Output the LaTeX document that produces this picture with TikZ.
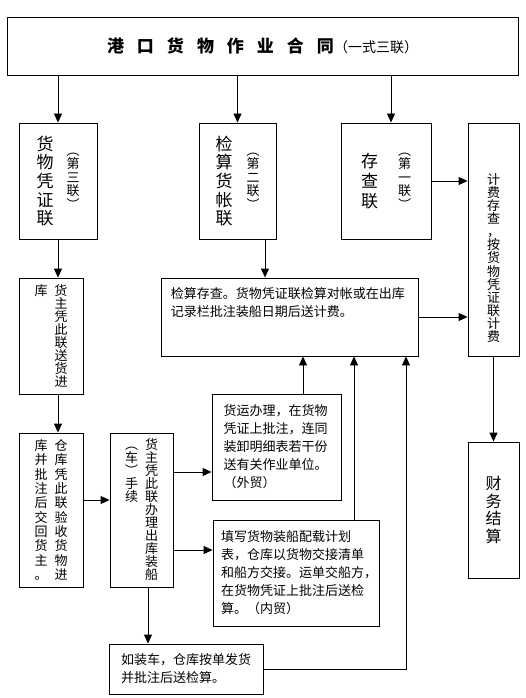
\documentclass[tikz,border=0pt]{standalone}
\usepackage{fontspec}
\setmainfont{Noto Sans CJK SC}
\usetikzlibrary{arrows.meta}

\newcommand{\vcolt}[2][]{\vtop{#1\hsize=1em\parindent=0pt\centering #2\par}}
\newcommand{\vcolc}[2][]{$\vcenter{#1\hsize=1em\parindent=0pt\centering #2\par}$}
\newcommand{\tsp}{\hspace{13pt}}

\begin{document}
\begin{tikzpicture}[x=1pt,y=-1pt]
  \tikzset{box/.style={draw, line width=0.9pt, inner sep=0pt},
    arr/.style={-{Triangle[length=9pt,width=8pt]}, line width=0.9pt},
    vtext/.style={font=\fontsize{13}{13.1}\selectfont},
    htext/.style={font=\fontsize{13}{18}\selectfont, align=left}}
  \useasboundingbox (0,0) rectangle (525,698);
  % contract and its three copies
  \node[box, minimum width=511pt, minimum height=58pt] (ht) at (262.5,46)
    {\fontsize{17}{20}\selectfont\bfseries 港\tsp 口\tsp 货\tsp 物\tsp 作\tsp 业\tsp 合\tsp 同\mdseries\fontsize{14}{16}\selectfont （一式三联）};
  \node[box, minimum width=78pt, minimum height=116pt] (pz) at (58,181)
    {\fontsize{17}{18.6}\selectfont\vcolc{货\\物\\凭\\证\\联}\hspace{13pt}\vcolc[\fontsize{13}{13.5}\selectfont]{︵\\第\\三\\联\\︶}};
  \node[box, minimum width=77pt, minimum height=116pt] (zz) at (237.5,181)
    {\fontsize{17}{18.6}\selectfont\vcolc{检\\算\\货\\帐\\联}\hspace{14pt}\vcolc[\fontsize{13}{13.5}\selectfont]{︵\\第\\二\\联\\︶}};
  \node[box, minimum width=90pt, minimum height=116pt] (cc) at (386,181)
    {\fontsize{17}{20}\selectfont\vcolc{存\\查\\联}\hspace{20pt}\vcolc[\fontsize{13}{13.5}\selectfont]{︵\\第\\一\\联\\︶}};
  % right column
  \node[box, minimum width=51pt, minimum height=233pt] (jf) at (493.5,239.5) {};
  \node[vtext] (jftxt) at (493.5,258)
    {\vcolc{计\\费\\存\\查\\，\\按\\货\\物\\凭\\证\\联\\计\\费}};
  \node[box, minimum width=51pt, minimum height=136pt] (cw) at (493.5,510)
    {\fontsize{16}{17.5}\selectfont\vcolc{财\\务\\结\\算}};
  % check box
  \node[box, minimum width=257pt, minimum height=78pt] (js) at (289.5,317) {};
  \node[htext, anchor=north west, inner sep=0pt] (jstxt)
    at ([shift={(10pt,-10pt)}]js.north west)
    {检算存查。货物凭证联检算对帐或在出库\\记录栏批注装船日期后送计费。};
  % left column
  \node[box, vtext, minimum width=64pt, minimum height=116pt] (jk) at (51,336)
    {\vcolt{库}\hspace{7pt}\vcolt{货\\主\\凭\\此\\联\\送\\货\\进}};
  \node[box, minimum width=64pt, minimum height=154pt, font=\fontsize{13}{14.3}\selectfont] (ys) at (51,510)
    {\vcolt{库\\并\\批\\注\\后\\交\\回\\货\\主\\。}\hspace{7pt}\vcolt{仓\\库\\凭\\此\\联\\验\\收\\货\\物\\进}};
  \node[box, minimum width=63pt, minimum height=154pt, font=\fontsize{13}{13}\selectfont] (ck) at (141.5,510)
    {\vcolt{︵\\车\\︶\\手\\续}\hspace{7pt}\vcolt{货\\主\\凭\\此\\联\\办\\理\\出\\库\\装\\船}};
  % trade boxes
  \node[box, htext, text width=106pt, minimum width=129pt, minimum height=106pt] (wm) at (276.5,447)
    {货运办理，在货物\\凭证上批注，连同\\装卸明细表若干份\\送有关作业单位。\\（外贸）};
  \node[box, htext, text width=150pt, minimum width=166pt, minimum height=106pt] (nm) at (296,573)
    {填写货物装船配载计划\\表，仓库以货物交接清单\\和船方交接。运单交船方，\\在货物凭证上批注后送检\\算。（内贸）};
  \node[box, htext, text width=130pt, minimum width=154pt, minimum height=50pt] (zc) at (186,669)
    {如装车，仓库按单发货\\并批注后送检算。};
  % arrows
  \coordinate (c3) at ([xshift=5pt]cc.north);
  \coordinate (z2) at ([xshift=27.5pt]zz.south);
  \coordinate (k1) at ([xshift=7pt]jk.south);
  \coordinate (y1) at ([yshift=10pt]ys.east);
  \coordinate (w1) at ([yshift=-25pt]wm.west);
  \coordinate (n1) at ([yshift=23pt]nm.west);
  \coordinate (w2) at ([xshift=26.5pt]wm.north);
  \coordinate (n2) at ([xshift=58pt]nm.north);
  \coordinate (c1) at ([xshift=6.5pt]ck.south);
  \coordinate (j1) at ([xshift=116.5pt]js.south);
  \draw[arr] (ht.south -| pz) -- (pz.north);
  \draw[arr] (ht.south -| zz) -- (zz.north);
  \draw[arr] (ht.south -| c3) -- (c3);
  \draw[arr] (cc.east) -- (cc.east -| jf.west);
  \draw[arr] (z2) -- (z2 |- js.north);
  \draw[arr] (js.east) -- (js.east -| jf.west);
  \draw[arr] (jf.south) -- (cw.north);
  \draw[arr] (pz.south) -- (pz.south |- jk.north);
  \draw[arr] (k1) -- (k1 |- ys.north);
  \draw[arr] (y1) -- (y1 -| ck.west);
  \draw[arr] (ck.east |- w1) -- (w1);
  \draw[arr] (ck.east |- n1) -- (n1);
  \draw[arr] (w2) -- (w2 |- js.south);
  \draw[arr] (n2) -- (n2 |- js.south);
  \draw[arr] (c1) -- (c1 |- zc.north);
  \draw[arr] (zc.east) -| (j1);
\end{tikzpicture}
\end{document}
